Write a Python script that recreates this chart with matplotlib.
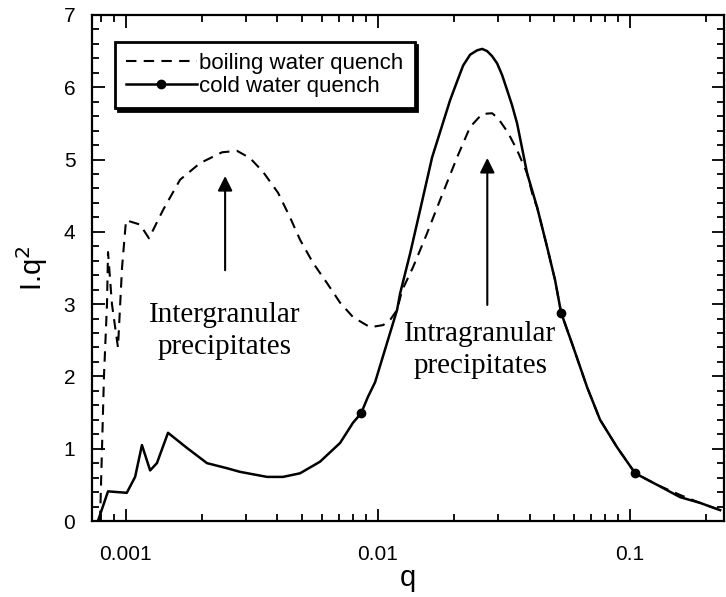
import numpy as np
import matplotlib
matplotlib.use("Agg")
import matplotlib.pyplot as plt
from matplotlib.ticker import MultipleLocator, LogLocator, NullFormatter, FixedLocator, FixedFormatter

plt.rcParams['font.family'] = ['Liberation Sans', 'DejaVu Sans']

# boiling water quench (dashed)
q_boil = [0.000791, 0.000820, 0.000843, 0.000851, 0.000882, 0.000915, 0.000932,
          0.000967, 0.001003, 0.00114, 0.001237, 0.001406, 0.001643, 0.001972,
          0.002411, 0.002765, 0.003113, 0.003506, 0.004022, 0.004487, 0.004917,
          0.005537, 0.006293, 0.007088, 0.007980, 0.009321, 0.0105, 0.01119,
          0.01193, 0.01249, 0.0138, 0.01569, 0.01767, 0.02064, 0.02325, 0.02594,
          0.02842, 0.03002, 0.03289, 0.03571, 0.03913, 0.04134, 0.04287, 0.04697,
          0.05053, 0.05339, 0.0596, 0.0677, 0.0762, 0.0890, 0.105, 0.1283, 0.1583,
          0.1901, 0.2282]
iq2_boil = [0.0, 2.0, 3.0, 3.72, 3.0, 2.6, 2.4,
            3.5, 4.16, 4.10, 3.91, 4.30, 4.72, 4.95,
            5.10, 5.12, 5.02, 4.83, 4.54, 4.20, 3.89,
            3.57, 3.29, 3.02, 2.82, 2.68, 2.71, 2.78,
            2.92, 3.19, 3.51, 3.98, 4.44, 5.03, 5.45, 5.63,
            5.64, 5.57, 5.37, 5.13, 4.81, 4.48, 4.34, 3.79,
            3.33, 2.88, 2.41, 1.85, 1.40, 1.02, 0.66, 0.50, 0.36,
            0.25, 0.15]

# cold water quench (solid with dots)
q_cold = [0.000776, 0.000851, 0.00101, 0.00109, 0.00116, 0.00125, 0.00133,
          0.001472, 0.001751, 0.002102, 0.002523, 0.00284, 0.003637, 0.004209,
          0.004917, 0.0059, 0.00709, 0.00798, 0.00859, 0.00915, 0.00976, 0.01193,
          0.01227, 0.01344, 0.01472, 0.01643, 0.01936, 0.02064, 0.02181, 0.02325,
          0.02477, 0.02594, 0.02715, 0.02842, 0.02975, 0.03113, 0.03260, 0.03411,
          0.03571, 0.03913, 0.04287, 0.04697, 0.05053, 0.05339, 0.0596, 0.0677,
          0.0762, 0.0890, 0.105, 0.1283, 0.1583, 0.1901, 0.2282]
iq2_cold = [0.0, 0.41, 0.39, 0.61, 1.05, 0.70, 0.80,
            1.22, 1.01, 0.80, 0.73, 0.68, 0.61, 0.61,
            0.66, 0.82, 1.08, 1.36, 1.49, 1.72, 1.92, 2.92,
            3.15, 3.70, 4.30, 5.03, 5.82, 6.08, 6.30, 6.45,
            6.51, 6.53, 6.50, 6.43, 6.33, 6.17, 5.96, 5.75,
            5.50, 4.81, 4.34, 3.79, 3.33, 2.88, 2.41, 1.85,
            1.40, 1.02, 0.66, 0.50, 0.33, 0.25, 0.15]
cold_marks = [18, 43, 48]

fig = plt.figure(figsize=(7.26, 5.97), dpi=100)
ax = fig.add_axes([0.1267, 0.1273, 0.8703, 0.8477])

ax.plot(q_boil, iq2_boil, color='k', lw=1.5, ls=(0, (5, 3.5)),
        label='boiling water quench')
ax.plot(q_cold, iq2_cold, color='k', lw=1.8, marker='o', ms=6,
        markevery=cold_marks, label='cold water quench')

ax.set_xscale('log')
ax.set_xlim(0.000735, 0.236)
ax.set_ylim(0, 7)

ax.xaxis.set_major_locator(FixedLocator([0.001, 0.01, 0.1]))
ax.xaxis.set_major_formatter(FixedFormatter(['0.001', '0.01', '0.1']))
ax.xaxis.set_minor_locator(LogLocator(base=10, subs=np.arange(2, 10), numticks=20))
ax.xaxis.set_minor_formatter(NullFormatter())
ax.yaxis.set_major_locator(MultipleLocator(1))
ax.yaxis.set_minor_locator(MultipleLocator(0.2))

ax.tick_params(which='both', direction='in', top=True, right=True,
               labelsize=15, width=1.3)
ax.tick_params(which='major', length=9)
ax.tick_params(which='minor', length=5)
ax.tick_params(axis='x', which='major', pad=17)
ax.tick_params(axis='y', which='major', pad=12)
for s in ax.spines.values():
    s.set_linewidth(1.6)

ax.set_xlabel('q', fontsize=21, labelpad=0)
ax.set_ylabel('I.q$^2$', fontsize=21, labelpad=10)

# annotations
ax.annotate('', xy=(0.00248, 4.81), xytext=(0.00248, 3.43),
            arrowprops=dict(arrowstyle='-|>', color='k', lw=1.5,
                            mutation_scale=22))
ax.text(0.00246, 2.63, 'Intergranular\nprecipitates', ha='center', va='center',
        fontsize=21, family='Liberation Serif', linespacing=1.3)
ax.annotate('', xy=(0.0272, 5.06), xytext=(0.0272, 2.95),
            arrowprops=dict(arrowstyle='-|>', color='k', lw=1.5,
                            mutation_scale=22))
ax.text(0.0255, 2.37, 'Intragranular\nprecipitates', ha='center', va='center',
        fontsize=21, family='Liberation Serif', linespacing=1.3)

leg = ax.legend(loc='upper left', bbox_to_anchor=(0.036, 0.947), borderaxespad=0,
                fontsize=16, handlelength=3.2, handletextpad=0.1,
                fancybox=False, edgecolor='k', framealpha=1,
                shadow={'color': 'k', 'alpha': 1}, borderpad=0.5,
                labelspacing=0.1)
leg.get_frame().set_linewidth(2)

fig.savefig('out.png', dpi=100)
